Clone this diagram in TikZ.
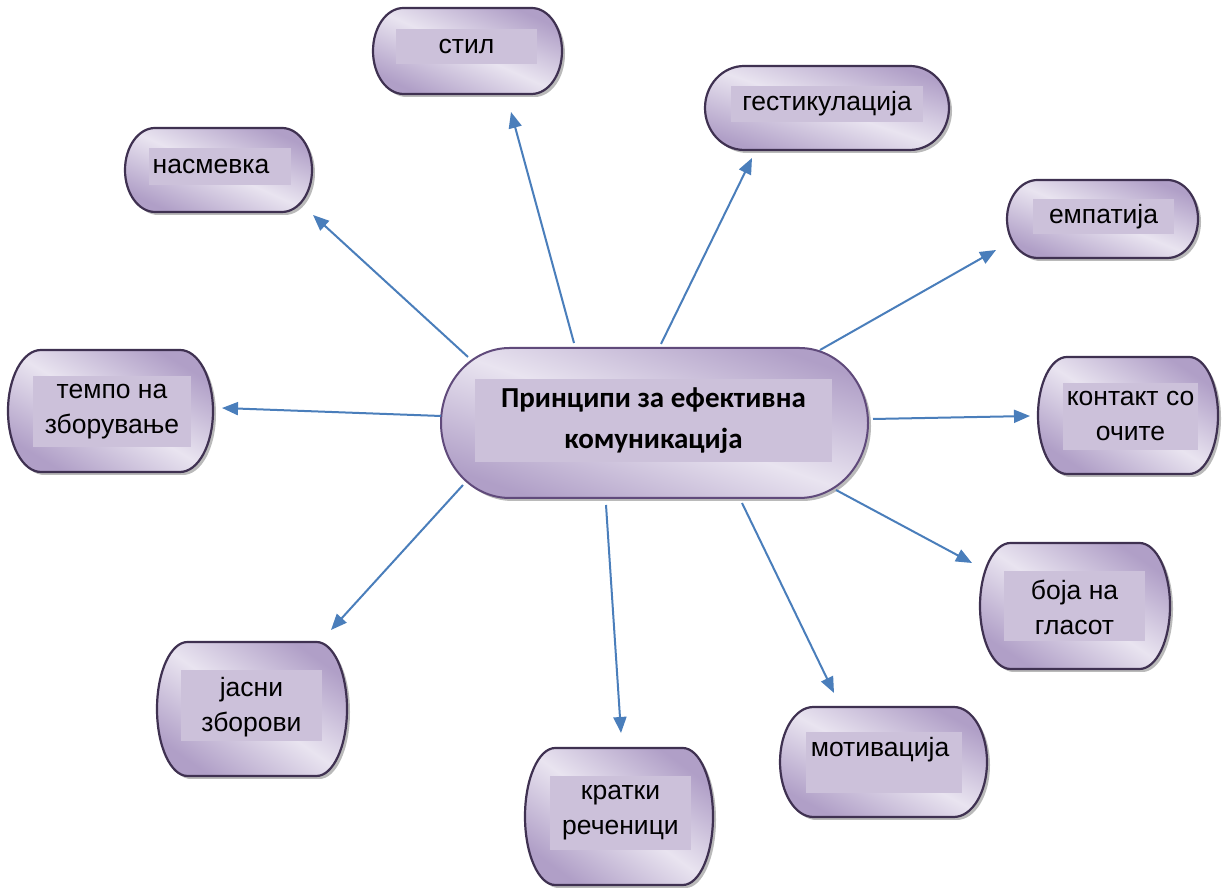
\documentclass[tikz,border=0pt]{standalone}
\usepackage{fontspec}
\setmainfont{Liberation Sans}
\newfontfamily\hubfont{Carlito}
\usetikzlibrary{arrows.meta}
\definecolor{lavdark}{HTML}{B09FC7}
\definecolor{lavlight}{HTML}{E9E4F0}
\definecolor{lavinner}{HTML}{CCC1DA}
\definecolor{bubedge}{HTML}{3F3151}
\definecolor{hubedge}{HTML}{604A7B}
\definecolor{arrblue}{HTML}{4A7EBB}
\pgfdeclarehorizontalshading{lavband}{100bp}{color(0bp)=(lavdark); color(25bp)=(lavdark);
  color(50bp)=(lavlight); color(75bp)=(lavdark); color(100bp)=(lavdark)}
\tikzset{
  bubline/.style={draw=bubedge, line width=2.2pt},
  bubshadow/.style={fill=black!45, opacity=.6},
  bubinner/.style={fill=lavinner},
  lbl/.style={font=\fontsize{26.5}{35}\selectfont, align=center, inner sep=0pt},
  hublbl/.style={font=\hubfont\bfseries\fontsize{29}{41}\selectfont, align=center, inner sep=0pt},
  arr/.style={draw=arrblue, line width=2pt, -{Triangle[length=16pt,width=13pt]}}
}
% left, bottom, right, top of the bubble, then its inner rectangle
\newcommand\bubble[9][]{%
  \pgfmathsetmacro\bubrx{0.161*(#4-#2)}%
  \pgfmathsetmacro\bubry{(#5-#3)/2}%
  \pgfmathsetmacro\bubang{atan2(#4-#2,#5-#3)}%
  \def\bubpath{(#2+\bubrx,#5) -- (#4-\bubrx,#5)
    arc[start angle=90,end angle=-90,x radius=\bubrx,y radius=\bubry]
    -- (#2+\bubrx,#3)
    arc[start angle=270,end angle=90,x radius=\bubrx,y radius=\bubry] -- cycle}%
  \fill[bubshadow,shift={(3,-3)}] \bubpath;
  \shade[shading=lavband,shading angle=\bubang] \bubpath;
  \draw[bubline,#1] \bubpath;
  \fill[bubinner] (#6,#7) rectangle (#8,#9);
}
\begin{document}
\begin{tikzpicture}[x=1pt,y=1pt,line join=round]
  \useasboundingbox (0,0) rectangle (1225,890);
  \fill[white] (0,0) rectangle (1225,890);

  \bubble{373}{796}{562}{882}{396}{826}{537}{861}
  \bubble{705}{740}{949}{824}{731}{768}{923}{804}
  \bubble{1007}{632}{1198}{710}{1033}{656}{1174}{691}
  \bubble{125}{678}{312}{762}{149}{705}{291}{742}
  \bubble{8}{418}{213}{540}{33}{443}{191}{514}
  \bubble[draw=hubedge,line width=2pt]{441}{392}{868}{542}{475}{428}{832}{511}
  \bubble{1038}{416}{1218}{533}{1063}{440}{1198}{507}
  \bubble{980}{221}{1170}{347}{1004}{249}{1145}{319}
  \bubble{780}{73}{987}{183}{806}{97}{962}{158}
  \bubble{157}{114}{347}{248}{181}{149}{322}{220}
  \bubble{525}{5}{713}{142}{550}{40}{691}{114}

  \node[hublbl] (hub) at (653.5,469.5) {Принципи за ефективна\\комуникација};
  \node[lbl] (stil) at (466.5,843.5) {стил};
  \node[lbl] (gest) at (827,786) {гестикулација};
  \node[lbl] (empat) at (1103.5,673.5) {емпатија};
  \node[lbl] (nasm) at (211,723.5) {насмевка};
  \node[lbl] (tempo) at (112,478.5) {темпо на\\зборување};
  \node[lbl] (kont) at (1130.5,473.5) {контакт со\\очите};
  \node[lbl] (boja) at (1074.5,283) {боја на\\гласот};
  \node[lbl] (motiv) at (880,140) {мотивација};
  \node[lbl] (jasni) at (251.5,183) {јасни\\зборови};
  \node[lbl] (kratki) at (620.5,77) {кратки\\реченици};

  \coordinate (hub-stil) at (574,547);   \coordinate (to-stil) at (511,778);
  \coordinate (hub-gest) at (661,546);   \coordinate (to-gest) at (752,732);
  \coordinate (hub-empat) at (820,540);  \coordinate (to-empat) at (996,640);
  \coordinate (hub-kont) at (873,471);   \coordinate (to-kont) at (1030,474);
  \coordinate (hub-boja) at (836,400);   \coordinate (to-boja) at (972,327);
  \coordinate (hub-motiv) at (742,387);  \coordinate (to-motiv) at (834,197);
  \coordinate (hub-kratki) at (606,385); \coordinate (to-kratki) at (621,157);
  \coordinate (hub-jasni) at (463,405);  \coordinate (to-jasni) at (331,260);
  \coordinate (hub-tempo) at (441,474);  \coordinate (to-tempo) at (222,482);
  \coordinate (hub-nasm) at (468,533);   \coordinate (to-nasm) at (313,675);

  \draw[arr] (hub-stil) -- (to-stil);
  \draw[arr] (hub-gest) -- (to-gest);
  \draw[arr] (hub-empat) -- (to-empat);
  \draw[arr] (hub-kont) -- (to-kont);
  \draw[arr] (hub-boja) -- (to-boja);
  \draw[arr] (hub-motiv) -- (to-motiv);
  \draw[arr] (hub-kratki) -- (to-kratki);
  \draw[arr] (hub-jasni) -- (to-jasni);
  \draw[arr] (hub-tempo) -- (to-tempo);
  \draw[arr] (hub-nasm) -- (to-nasm);
\end{tikzpicture}
\end{document}
